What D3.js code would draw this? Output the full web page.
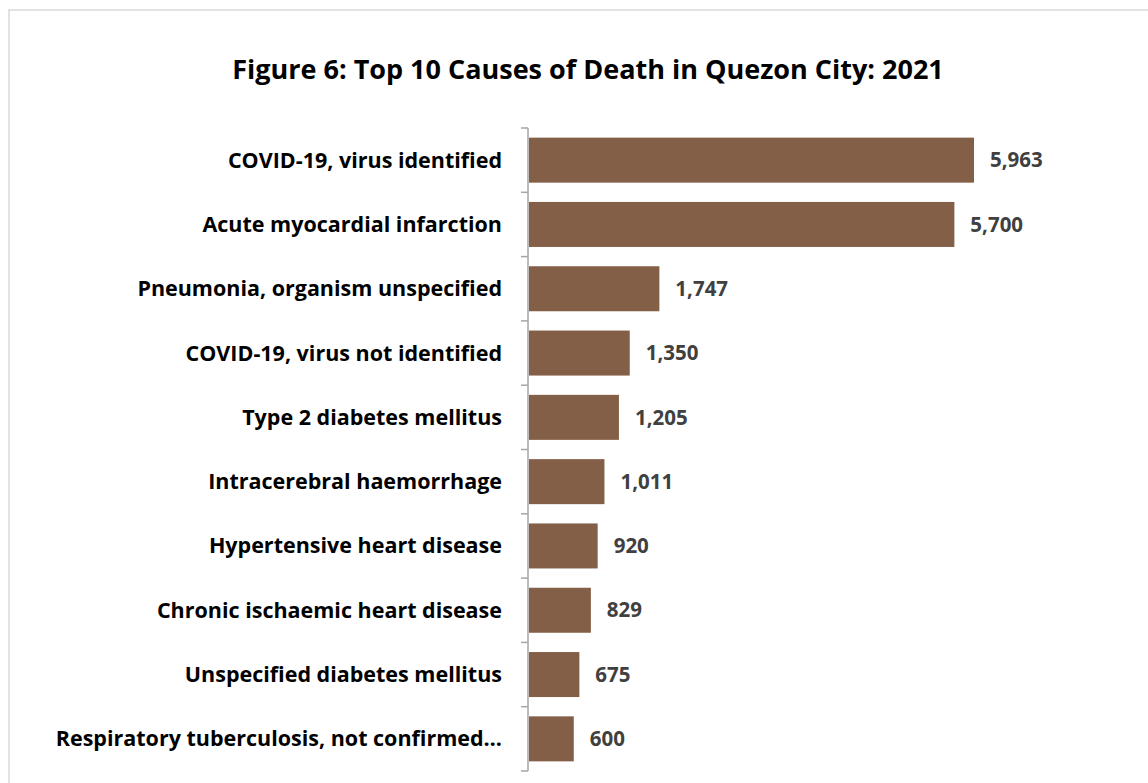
<!DOCTYPE html>
<html><head><meta charset="utf-8">
<script src="https://cdn.jsdelivr.net/npm/d3@7"></script>
<style>body{margin:0;background:#fff;}svg{display:block;}</style>
</head><body>
<svg id="chart" width="1148" height="783"></svg>
<script>
const title = "Figure 6: Top 10 Causes of Death in Quezon City: 2021";
const categories = [
  "COVID-19, virus identified",
  "Acute myocardial infarction",
  "Pneumonia, organism unspecified",
  "COVID-19, virus not identified",
  "Type 2 diabetes mellitus",
  "Intracerebral haemorrhage",
  "Hypertensive heart disease",
  "Chronic ischaemic heart disease",
  "Unspecified diabetes mellitus",
  "Respiratory tuberculosis, not confirmed…"
];
const values = [5963, 5700, 1747, 1350, 1205, 1011, 920, 829, 675, 600];

const svg = d3.select("#chart");
const font = "'Open Sans', Lato, sans-serif";

// frame
svg.append("rect").attr("x", 9).attr("y", 10).attr("width", 1160).attr("height", 800)
  .attr("fill", "none").attr("stroke", "#d9d9d9").attr("stroke-width", 1.5);

svg.append("text").attr("x", 588).attr("y", 79).attr("text-anchor", "middle")
  .attr("font-family", font).attr("font-weight", 700).attr("font-size", 27)
  .attr("fill", "#000").text(title);

const x0 = 529;
const x = d3.scaleLinear().domain([0, 5963]).range([x0, 974]);
const y = d3.scaleBand().domain(categories).range([128, 771]).paddingInner(0.3).paddingOuter(0.15);
const band = d3.scaleBand().domain(categories).range([128, 771]);

// bars
svg.append("g").selectAll("rect").data(values).join("rect")
  .attr("x", x0).attr("y", (d, i) => y(categories[i]))
  .attr("width", d => x(d) - x0).attr("height", y.bandwidth())
  .attr("fill", "#845F47");

// axis
const axisG = svg.append("g").attr("transform", `translate(${x0 - 1},0)`);
axisG.append("line").attr("x1", 0).attr("x2", 0).attr("y1", 128).attr("y2", 771)
  .attr("stroke", "#a6a6a6").attr("stroke-width", 1.5);
const edges = categories.map(c => band(c)).concat([771]);
axisG.selectAll("line.tick").data(edges).join("line").attr("class", "tick")
  .attr("x1", -7).attr("x2", 0).attr("y1", d => d).attr("y2", d => d)
  .attr("stroke", "#a6a6a6").attr("stroke-width", 1.5);

// category labels
svg.append("g").selectAll("text").data(categories).join("text")
  .attr("x", 502).attr("y", c => y(c) + y.bandwidth() / 2)
  .attr("dy", "0.35em").attr("text-anchor", "end")
  .attr("font-family", font).attr("font-weight", 700).attr("font-size", 21.5)
  .attr("fill", "#000").text(c => c);

// value labels
svg.append("g").selectAll("text").data(values).join("text")
  .attr("x", d => x(d) + 16).attr("y", (d, i) => y(categories[i]) + y.bandwidth() / 2)
  .attr("dy", "0.35em")
  .attr("font-family", font).attr("font-weight", 700).attr("font-size", 20.5)
  .attr("fill", "#404040").text(d => d3.format(",")(d));
</script>
</body></html>
